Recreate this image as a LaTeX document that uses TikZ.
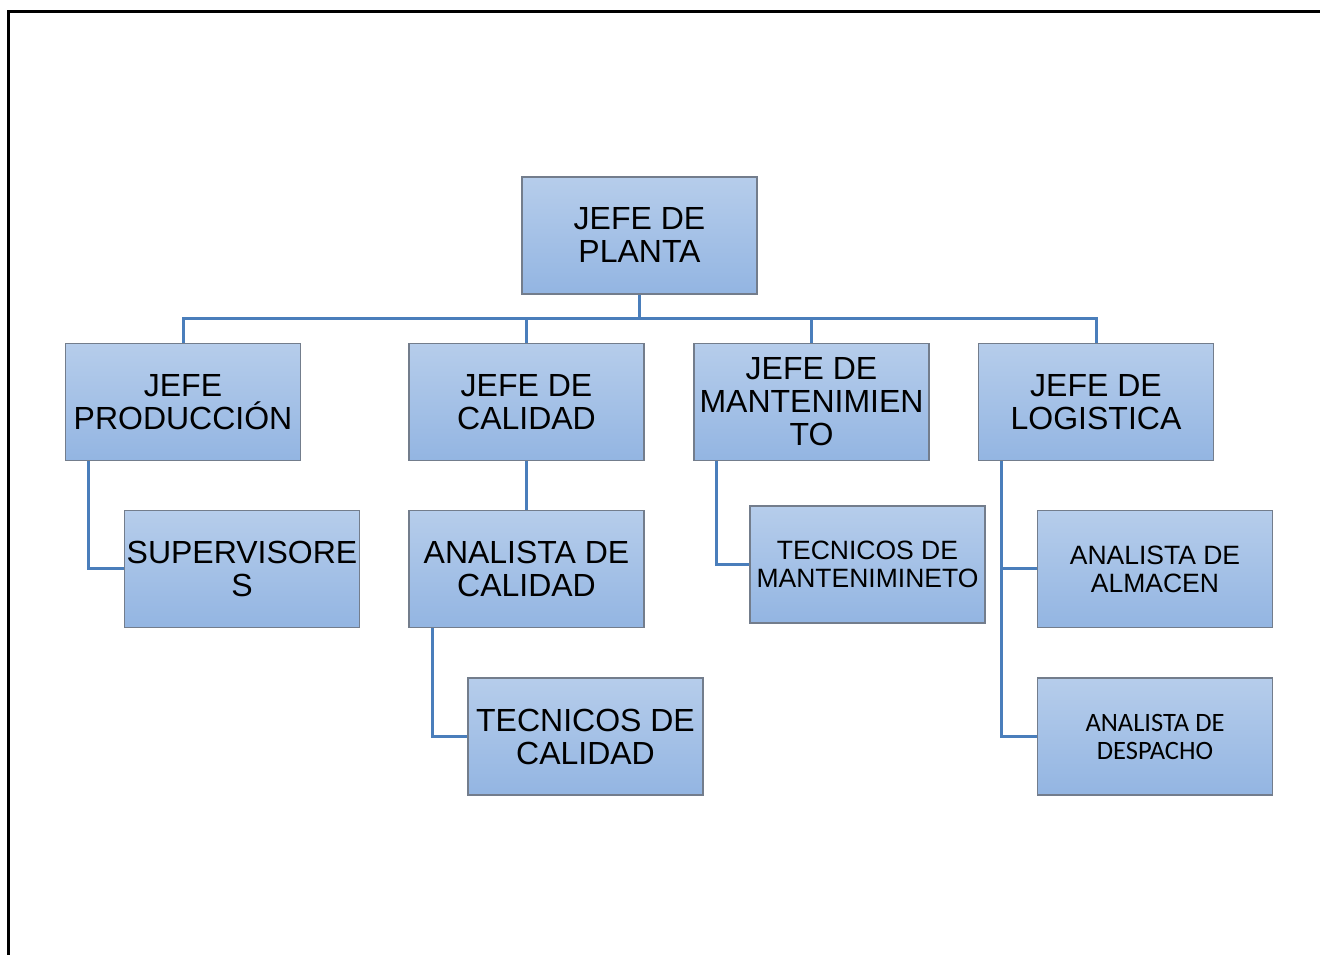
\documentclass[tikz,border=0pt]{standalone}
\usepackage{fontspec}
\setmainfont{Liberation Sans}
\newfontfamily\calibri{Carlito}
\usepackage{tikz}

\definecolor{boxtop}{RGB}{182,205,235}
\definecolor{boxbot}{RGB}{147,181,226}
\definecolor{boxline}{RGB}{115,125,140}
\definecolor{linkblue}{RGB}{74,126,187}

\tikzset{
  puesto/.style={draw=boxline, line width=1.4pt, top color=boxtop, bottom color=boxbot,
    minimum width=235pt, minimum height=117pt, inner sep=1pt, align=center,
    font=\fontsize{32}{33}\selectfont},
  chico/.style={font=\fontsize{26.5}{28}\selectfont},
  link/.style={draw=linkblue, line width=3pt}
}

\begin{document}
\begin{tikzpicture}[x=1pt, y=1pt]
  \useasboundingbox (0,0) rectangle (1320,955);
  \clip (0,0) rectangle (1320,955);
  % marco
  \draw[line width=3pt] (8,-10) |- (1335,943);

  \node[puesto] (planta) at (639.5,719.5) {JEFE DE\\PLANTA};

  \node[puesto] (prod) at (183,553) {JEFE\\PRODUCCIÓN};
  \node[puesto] (cal) at (526.5,553) {JEFE DE\\CALIDAD};
  \node[puesto] (mant) at (811.5,553) {JEFE DE\\MANTENIMIEN\\TO};
  \node[puesto] (log) at (1096,553) {JEFE DE\\LOGISTICA};

  \node[puesto] (sup) at (242,386) {SUPERVISORE\\S};
  \node[puesto] (anacal) at (526.5,386) {ANALISTA DE\\CALIDAD};
  \node[puesto] (teccal) at (585.5,218.5) {TECNICOS DE\\CALIDAD};
  \node[puesto, chico] (tecmant) at (867.5,390.5) {TECNICOS DE\\MANTENIMINETO};
  \node[puesto, chico] (alm) at (1155,386) {ANALISTA DE\\ALMACEN};
  \node[puesto, font=\calibri\fontsize{26.5}{28}\selectfont] (desp) at (1155,218.5) {ANALISTA DE\\DESPACHO};

  % lineas
  \coordinate (bus) at (0,636);
  \draw[link] (prod.north) |- (log.north |- bus) -- (log.north);
  \draw[link] (planta.south) -- (planta.south |- bus);
  \draw[link] (cal.north) -- (cal.north |- bus);
  \draw[link] (mant.north) -- (mant.north |- bus);

  \draw[link] ([xshift=24pt]prod.south west) |- (sup.west);
  \draw[link] (cal.south) -- (anacal.north);
  \draw[link] ([xshift=24pt]anacal.south west) |- (teccal.west);
  \draw[link] ([xshift=23pt]mant.south west) |- (tecmant.west);
  \draw[link] ([xshift=24pt]log.south west) |- (alm.west);
  \draw[link] ([xshift=24pt]log.south west) |- (desp.west);
\end{tikzpicture}
\end{document}
